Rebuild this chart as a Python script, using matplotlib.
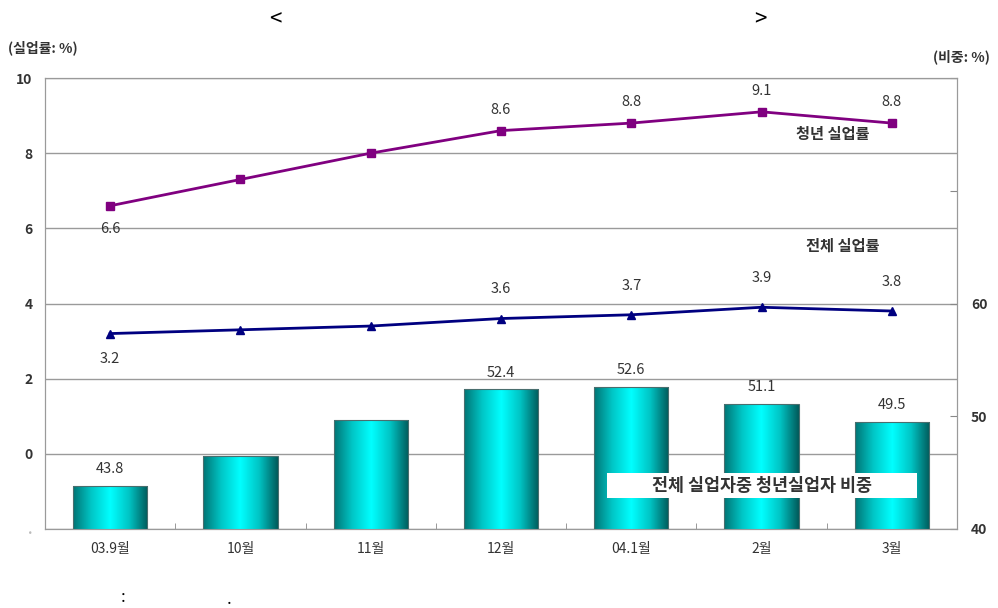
import matplotlib
matplotlib.use('Agg')
import matplotlib.pyplot as plt
import numpy as np
from matplotlib.colors import LinearSegmentedColormap
from matplotlib.patches import Rectangle

plt.rcParams['font.family'] = ['Noto Sans CJK KR', 'DejaVu Sans']

categories = ["03.9월", "10월", "11월", "12월", "04.1월", "2월", "3월"]
youth_rate = [6.6, 7.3, 8.0, 8.6, 8.8, 9.1, 8.8]
total_rate = [3.2, 3.3, 3.4, 3.6, 3.7, 3.9, 3.8]
youth_share = [43.8, 46.5, 49.7, 52.4, 52.6, 51.1, 49.5]
youth_labels = ["6.6", "", "", "8.6", "8.8", "9.1", "8.8"]
total_labels = ["3.2", "", "", "3.6", "3.7", "3.9", "3.8"]
share_labels = ["43.8", "", "", "52.4", "52.6", "51.1", "49.5"]
left_ticks = [-2, 0, 2, 4, 6, 8, 10]
left_ticklabels = [".", "0", "2", "4", "6", "8", "10"]
right_ticks = [40, 50, 60, 70, 80]
right_ticklabels = ["40", "50", "60", "", ""]

fig = plt.figure(figsize=(9.98, 6.08), dpi=100)
ax = fig.add_axes([45/998, 1-529/608, 912/998, 451/608])
ax2 = ax.twinx()
ax3 = ax.twinx()
ax.set_zorder(0)
ax2.set_zorder(1)
ax3.set_zorder(2)
ax2.patch.set_visible(False)
ax3.patch.set_visible(False)

x = np.arange(len(categories))
txtc = '#333333'
gridc = '#9a9a9a'

# grid/base axis
ax.set_xlim(-0.5, len(categories) - 0.5)
ax.set_ylim(-2, 10)
ax.set_yticks(left_ticks)
ax.set_yticklabels(left_ticklabels, fontsize=10, fontweight='bold', color=txtc)
ax.get_yticklabels()[0].set_color('#bbbbbb')
ax.yaxis.grid(True, color=gridc, lw=1)
ax.tick_params(axis='y', length=0, pad=9)
ax.set_xticks(x)
ax.set_xticklabels(categories, fontsize=10, color=txtc)
ax.tick_params(axis='x', which='major', length=0, pad=9)
ax.set_xticks(np.arange(0.5, len(categories) - 1, 1), minor=True)
ax.tick_params(axis='x', which='minor', direction='in', length=4, color='#888888')
for s in ax.spines.values():
    s.set_color(gridc)

# bars with gradient
ax2.set_ylim(40, 80)
w = 0.57
bars = ax2.bar(x, youth_share, width=w, color='none', edgecolor='#4a6e6e', lw=0.8, zorder=3)
cmap = LinearSegmentedColormap.from_list('tealgrad', ['#007474', '#00c8c8', '#00ffff', '#00c4c4', '#005a5a'])
grad = np.linspace(0, 1, 256).reshape(1, -1)
for b in bars:
    x0 = b.get_x()
    top = b.get_height()
    im = ax2.imshow(grad, extent=[x0, x0 + w, 40, top], cmap=cmap, aspect='auto', zorder=2)
    im.set_clip_path(b)
for xi, v, lab in zip(x, youth_share, share_labels):
    if lab:
        ax2.annotate(lab, (xi, v), xytext=(0, 12), textcoords='offset points',
                     ha='center', va='center', fontsize=10.5, color=txtc)
ax2.set_xlim(-0.5, len(categories) - 0.5)
ax2.set_ylim(40, 80)
ax2.set_yticks(right_ticks)
ax2.set_yticklabels(right_ticklabels, fontsize=10, fontweight='bold', color=txtc)
ax2.tick_params(axis='y', direction='in', length=5, pad=10, color='#888888')
for s in ax2.spines.values():
    s.set_color(gridc)

# lines
ax3.set_ylim(-2, 10)
ax3.plot(x, youth_rate, color='#800080', lw=2, marker='s', ms=6, zorder=3)
ax3.plot(x, total_rate, color='#000080', lw=2, marker='^', ms=6, zorder=3)
for i, (v, lab) in enumerate(zip(youth_rate, youth_labels)):
    if lab:
        off = -17 if i == 0 else 15
        ax3.annotate(lab, (x[i], v), xytext=(0, off), textcoords='offset points',
                     ha='center', va='center', fontsize=10.5, color=txtc)
for i, (v, lab) in enumerate(zip(total_rate, total_labels)):
    if lab:
        off = -18 if i == 0 else 21
        ax3.annotate(lab, (x[i], v), xytext=(0, off), textcoords='offset points',
                     ha='center', va='center', fontsize=10.5, color=txtc)
ax3.set_xlim(-0.5, len(categories) - 0.5)
ax3.set_yticks([])
for s in ax3.spines.values():
    s.set_visible(False)

ax3.text(5.55, 8.5, "청년 실업률", ha='center', va='center', fontsize=11,
         fontweight='bold', color=txtc, zorder=4)
ax3.text(5.62, 5.53, "전체 실업률", ha='center', va='center', fontsize=11,
         fontweight='bold', color=txtc, zorder=4)
ax3.add_patch(Rectangle((3.81, -1.18), 2.38, 0.67, facecolor='white', edgecolor='none', zorder=4))
ax3.text(5.0, -0.85, "전체 실업자중 청년실업자 비중", ha='center', va='center', fontsize=12.5,
         fontweight='bold', color=txtc, zorder=5)

fig.text(8/998, 1-48/608, "(실업률: %)", ha='left', va='center', fontsize=10, fontweight='bold', color=txtc)
fig.text(990/998, 1-57/608, "(비중: %)", ha='right', va='center', fontsize=10, fontweight='bold', color=txtc)
fig.text(275/998, 1-20/608, "<", ha='center', va='center', fontsize=16)
fig.text(760/998, 1-20/608, ">", ha='center', va='center', fontsize=16)
fig.text(123/998, 1-598/608, ":", ha='center', va='center', fontsize=12)
fig.text(229/998, 1-600/608, ".", ha='center', va='center', fontsize=12)

fig.savefig('out.png', dpi=100)
